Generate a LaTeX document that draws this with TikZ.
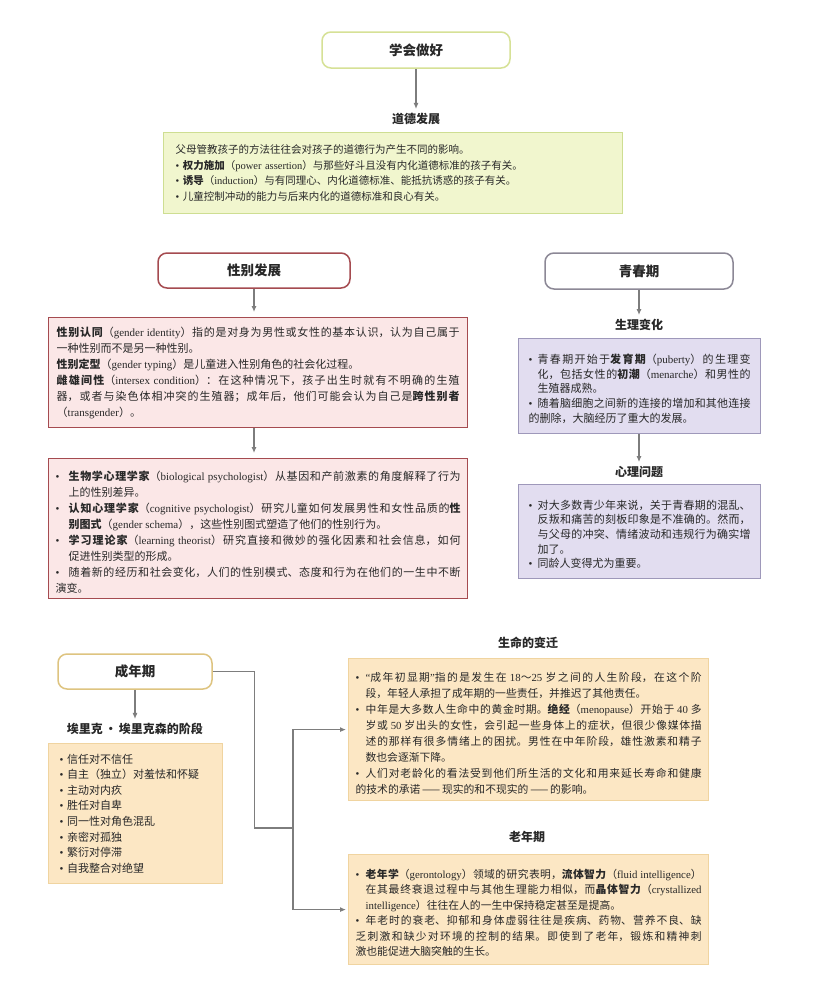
\documentclass[tikz,border=0pt]{standalone}
\usepackage{fontspec}
\setmainfont{Noto Sans CJK SC}
\newfontfamily\enfont{Liberation Serif}
\usetikzlibrary{arrows.meta}
\XeTeXlinebreaklocale "zh"
\XeTeXlinebreakskip=0pt plus 2pt
\definecolor{greenfill}{RGB}{241,246,206}
\definecolor{greenline}{RGB}{206,222,146}
\definecolor{pinkfill}{RGB}{251,231,231}
\definecolor{pinkline}{RGB}{165,75,80}
\definecolor{purplefill}{RGB}{226,221,240}
\definecolor{purpleline}{RGB}{158,152,186}
\definecolor{orangefill}{RGB}{252,231,196}
\definecolor{orangeline}{RGB}{240,212,160}
\definecolor{tonegreen}{RGB}{214,225,150}
\definecolor{tonegray}{RGB}{140,136,150}
\definecolor{tonegold}{RGB}{222,196,128}
\definecolor{arrowgray}{RGB}{125,125,125}
\definecolor{txt}{RGB}{40,40,40}
\newlength\bw
\setlength\bw{10pt}
\newcommand\E[1]{{\enfont #1}}
\newcommand\dotb{{\enfont •}}
\newcommand\bp{\par\noindent\hangindent=\bw\hangafter=1\makebox[\bw][l]{\dotb}}
\tikzset{
  titlebox/.style={draw, rounded corners=9pt, line width=1.5pt, fill=white,
    minimum height=36pt, text=txt, font=\fontsize{13.5}{15}\selectfont\bfseries},
  lbl/.style={text=txt, inner sep=2pt, font=\fontsize{12}{14}\selectfont\bfseries},
  arr/.style={draw=arrowgray, line width=1.1pt, -{Latex[length=6pt,width=5pt]}},
  conn/.style={draw=arrowgray, line width=1.1pt},
  tbox/.style={draw, anchor=north west, inner ysep=3pt, align=justify, text=txt,
    font=\fontsize{11}{15.5}\selectfont},
}
\begin{document}
\begin{tikzpicture}[x=1pt,y=-1pt]
\useasboundingbox[fill=white] (0,0) rectangle (835,997);

% ---------- moral development ----------
\node[titlebox, draw=tonegreen, minimum width=188pt] (t1) at (416,50) {学会做好};
\node[lbl] (l1) at (416,119) {道德发展};
\node[tbox, fill=greenfill, draw=greenline, line width=1.3pt, align=left,
      inner xsep=12pt, text width=435pt, minimum height=81pt,
      font=\fontsize{10.5}{15.5}\selectfont] (g) at (163,132) {%
父母管教孩子的方法往往会对孩子的道德行为产生不同的影响。\\
\dotb\ \textbf{权力施加}（\E{power assertion}）与那些好斗且没有内化道德标准的孩子有关。\\
\dotb\ \textbf{诱导}（\E{induction}）与有同理心、内化道德标准、能抵抗诱惑的孩子有关。\\
\dotb\ 儿童控制冲动的能力与后来内化的道德标准和良心有关。};
\draw[arr, shorten >=2pt] (t1.south) -- (l1.north);

% ---------- gender development ----------
\node[titlebox, draw=pinkline, minimum width=192pt, minimum height=35pt] (t2) at (254,270.5) {性别发展};
\node[tbox, fill=pinkfill, draw=pinkline, line width=1.4pt, inner xsep=8pt,
      text width=403pt, minimum height=110pt, font=\fontsize{11}{16}\selectfont] (p1) at (48,317) {%
\textbf{性别认同}（\E{gender identity}）指的是对身为男性或女性的基本认识，认为自己属于\linebreak
一种性别而不是另一种性别。\par
\textbf{性别定型}（\E{gender typing}）是儿童进入性别角色的社会化过程。\par
\textbf{雌雄间性}（\E{intersex condition}）：在这种情况下，孩子出生时就有不明确的生殖\linebreak
器，或者与染色体相冲突的生殖器；成年后，他们可能会认为自己是\textbf{跨性别者}\linebreak
（\E{transgender}）。};
\node[tbox, fill=pinkfill, draw=pinkline, line width=1.4pt, inner xsep=7pt,
      text width=405pt, minimum height=140pt, font=\fontsize{11}{16}\selectfont] (p2) at (48,458) {%
\setlength\bw{13pt}%
\bp\textbf{生物学心理学家}（\E{biological psychologist}）从基因和产前激素的角度解释了行为\linebreak
上的性别差异。
\bp\textbf{认知心理学家}（\E{cognitive psychologist}）研究儿童如何发展男性和女性品质的\textbf{性\linebreak
别图式}（\E{gender schema}），这些性别图式塑造了他们的性别行为。
\bp\textbf{学习理论家}（\E{learning theorist}）研究直接和微妙的强化因素和社会信息，如何\linebreak
促进性别类型的形成。
\bp 随着新的经历和社会变化，人们的性别模式、态度和行为在他们的一生中不断\linebreak
演变。};
\draw[arr, shorten >=5pt] (t2.south) -- (t2.south |- p1.north);
\draw[arr, shorten >=5pt] (t2.south |- p1.south) -- (t2.south |- p2.north);

% ---------- adolescence ----------
\node[titlebox, draw=tonegray, minimum width=188pt] (t3) at (639,271) {青春期};
\node[lbl] (l2) at (639,325) {生理变化};
\node[tbox, fill=purplefill, draw=purpleline, line width=1.3pt, inner xsep=10pt,
      text width=222pt, minimum height=95pt, font=\fontsize{11}{14.7}\selectfont] (u1) at (518,338) {%
\setlength\bw{9pt}%
\bp 青春期开始于\textbf{发育期}（\E{puberty}）的生理变\linebreak
化，包括女性的\textbf{初潮}（\E{menarche}）和男性的\linebreak
生殖器成熟。
\bp 随着脑细胞之间新的连接的增加和其他连接\linebreak
的删除，大脑经历了重大的发展。};
\node[lbl] (l3) at (639,472) {心理问题};
\node[tbox, fill=purplefill, draw=purpleline, line width=1.3pt, inner xsep=10pt,
      text width=222pt, minimum height=94pt, font=\fontsize{11}{14.7}\selectfont] (u2) at (518,484) {%
\setlength\bw{9pt}%
\bp 对大多数青少年来说，关于青春期的混乱、\linebreak
反叛和痛苦的刻板印象是不准确的。然而，\linebreak
与父母的冲突、情绪波动和违规行为确实增\linebreak
加了。
\bp 同龄人变得尤为重要。};
\draw[arr, shorten >=2pt] (t3.south) -- (l2.north);
\draw[arr, shorten >=2pt] (t3.south |- u1.south) -- (l3.north);

% ---------- adulthood ----------
\node[titlebox, draw=tonegold, minimum width=154pt, minimum height=35pt] (t4) at (135,671.5) {成年期};
\node[lbl] (l4) at (135,729) {埃里克\,·\,埃里克森的阶段};
\node[tbox, fill=orangefill, draw=orangeline, line width=1.2pt, align=left, inner xsep=11pt,
      text width=152pt, minimum height=140pt, font=\fontsize{11}{15.6}\selectfont] (o1) at (48,743) {%
\dotb\ 信任对不信任\\
\dotb\ 自主（独立）对羞怯和怀疑\\
\dotb\ 主动对内疚\\
\dotb\ 胜任对自卑\\
\dotb\ 同一性对角色混乱\\
\dotb\ 亲密对孤独\\
\dotb\ 繁衍对停滞\\
\dotb\ 自我整合对绝望};
\draw[arr, shorten >=2pt] (t4.south) -- (l4.north);

\node[lbl] (l5) at (528,643) {生命的变迁};
\node[tbox, fill=orangefill, draw=orangeline, line width=1.2pt, inner xsep=7pt,
      text width=346pt, minimum height=142pt, font=\fontsize{10.8}{16}\selectfont] (life) at (348,658) {%
\setlength\bw{10pt}%
\bp\E{“}成年初显期\E{”}指的是发生在 \E{18}～\E{25} 岁之间的人生阶段，在这个阶\linebreak
段，年轻人承担了成年期的一些责任，并推迟了其他责任。
\bp 中年是大多数人生命中的黄金时期。\textbf{绝经}（\E{menopause}）开始于 \E{40} 多\linebreak
岁或 \E{50} 岁出头的女性，会引起一些身体上的症状，但很少像媒体描\linebreak
述的那样有很多情绪上的困扰。男性在中年阶段，雄性激素和精子\linebreak
数也会逐渐下降。
\bp 人们对老龄化的看法受到他们所生活的文化和用来延长寿命和健康\linebreak
的技术的承诺\,——\,现实的和不现实的\,——\,的影响。};

\node[lbl] (l6) at (527,837) {老年期};
\node[tbox, fill=orangefill, draw=orangeline, line width=1.2pt, inner xsep=7pt,
      text width=346pt, minimum height=110pt, font=\fontsize{10.8}{15.5}\selectfont] (old) at (348,854) {%
\setlength\bw{10pt}%
\bp\textbf{老年学}（\E{gerontology}）领域的研究表明，\textbf{流体智力}（\E{fluid intelligence}）\linebreak
在其最终衰退过程中与其他生理能力相似，而\textbf{晶体智力}（\E{crystallized}\linebreak
\E{intelligence}）往往在人的一生中保持稳定甚至是提高。
\bp 年老时的衰老、抑郁和身体虚弱往往是疾病、药物、营养不良、缺\linebreak
乏刺激和缺少对环境的控制的结果。即使到了老年，锻炼和精神刺\linebreak
激也能促进大脑突触的生长。};

\coordinate (j) at (293,828);
\draw[conn] (t4.east) -- ++(42,0) |- (j);
\draw[arr, shorten >=2pt] (j) |- (life.west);
\draw[arr, shorten >=2pt] (j) |- (old.west);
\end{tikzpicture}
\end{document}
